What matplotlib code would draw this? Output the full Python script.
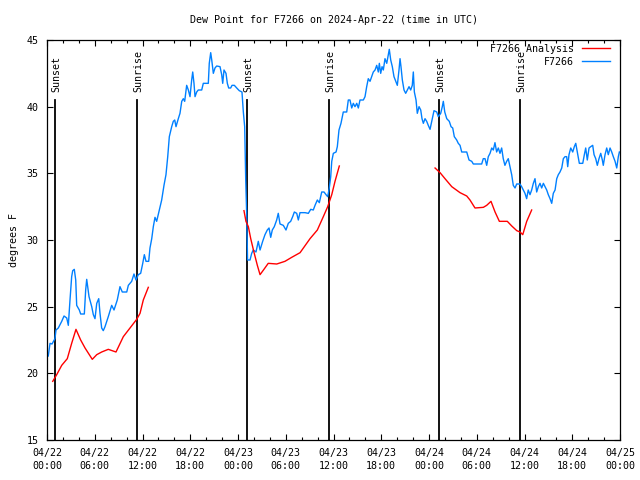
import numpy as np
import matplotlib
matplotlib.use('Agg')
import matplotlib.pyplot as plt

plt.rcParams['font.family'] = ['DejaVu Sans Mono']
plt.rcParams['font.size'] = 7.2

# hours since 2024-04-22 00:00 UTC
obs_hours = [0.16, 0.38, 0.63, 1.0, 1.13, 1.42, 1.85, 2.14, 2.48, 2.68, 2.89, 3.1, 3.23, 3.43, 3.61, 3.73,
             4.06, 4.23, 4.69, 4.86, 4.99, 5.11, 5.28, 5.62, 5.82, 6.03, 6.25, 6.5, 6.66, 6.87, 7.07, 7.29,
             7.7, 8.13, 8.42, 8.83, 9.17, 9.46, 10.02, 10.22, 10.64, 10.93, 11.18, 11.47, 11.77, 12.03,
             12.23, 12.44, 12.78, 12.94, 13.16, 13.36, 13.57, 13.78, 14.11, 14.41, 14.7, 14.95, 15.17,
             15.37, 15.67, 15.87, 16.05, 16.21, 16.5, 16.71, 16.93, 17.13, 17.3, 17.55, 17.76, 17.97,
             18.18, 18.31, 18.47, 18.6, 18.81, 19.01, 19.44, 19.64, 20.27, 20.39, 20.57, 20.7, 20.9,
             21.11, 21.32, 21.74, 21.95, 22.08, 22.24, 22.49, 22.66, 22.83, 23.08, 23.25, 23.54, 23.84,
             24.16, 24.5, 24.67, 24.84, 24.97, 25.1, 25.2, 25.51, 25.72, 25.92, 26.26, 26.55, 26.77,
             27.1, 27.39, 27.68, 27.9, 28.11, 28.31, 28.56, 28.86, 29.06, 29.28, 29.69, 30.03, 30.32,
             30.62, 30.87, 31.08, 31.38, 31.58, 31.79, 32.42, 32.84, 33.14, 33.46, 33.68, 33.97, 34.22,
             34.52, 34.81, 35.06, 35.27, 35.47, 35.65, 35.78, 35.98, 36.32, 36.48, 36.69, 36.94, 37.23,
             37.66, 37.86, 38.07, 38.29, 38.49, 38.7, 38.92, 39.12, 39.33, 39.75, 39.96, 40.17, 40.37,
             40.59, 40.8, 41.0, 41.22, 41.43, 41.63, 41.76, 41.93, 42.1, 42.26, 42.47, 42.69, 42.89,
             43.01, 43.19, 43.39, 43.6, 43.82, 44.02, 44.23, 44.36, 44.48, 44.65, 44.86, 45.07, 45.28,
             45.49, 45.7, 45.9, 46.03, 46.16, 46.37, 46.53, 46.75, 46.96, 47.12, 47.29, 47.5, 47.71,
             47.91, 48.13, 48.47, 48.63, 48.97, 49.17, 49.47, 49.67, 49.8, 49.98, 50.23, 50.55, 50.77,
             50.98, 51.18, 51.48, 51.68, 51.9, 52.11, 52.74, 53.03, 53.37, 53.57, 54.62, 54.82, 55.04,
             55.25, 55.45, 55.67, 55.88, 56.08, 56.29, 56.5, 56.71, 56.92, 57.13, 57.33, 57.54, 57.76,
             57.96, 58.18, 58.39, 58.59, 58.81, 59.02, 59.43, 59.64, 59.85, 60.06, 60.27, 60.47, 60.69,
             60.9, 61.11, 61.32, 61.53, 61.74, 61.95, 62.16, 62.37, 62.58, 62.79, 62.99, 63.21, 63.42,
             63.62, 63.84, 64.05, 64.25, 64.46, 64.68, 64.88, 65.09, 65.3, 65.43, 65.59, 65.81, 66.06,
             66.26, 66.44, 66.64, 66.89, 67.32, 67.52, 67.69, 67.89, 68.11, 68.32, 68.57, 68.74, 68.95,
             69.15, 69.36, 69.58, 69.78, 69.9, 70.12, 70.33, 70.53, 70.75, 70.96, 71.16, 71.38, 71.59,
             71.79, 71.92]
obs_dewpt = [21.3, 22.25, 22.2, 22.6, 23.25, 23.4, 23.9, 24.3, 24.15, 23.6, 25.5, 27.25, 27.7, 27.8, 27.0, 25.1,
             24.75, 24.45, 24.45, 26.25, 27.05, 26.5, 25.75, 25.0, 24.4, 24.1, 25.25, 25.6, 24.5, 23.4, 23.2, 23.5,
             24.25, 25.1, 24.75, 25.5, 26.5, 26.1, 26.1, 26.6, 26.9, 27.45, 27.0, 27.4, 27.5, 28.25,
             28.9, 28.4, 28.4, 29.4, 30.1, 31.0, 31.7, 31.4, 32.25, 33.0, 34.1, 34.9, 36.25,
             37.75, 38.5, 38.9, 39.0, 38.5, 39.1, 39.5, 40.4, 40.6, 40.4, 41.6, 41.25, 40.75,
             42.0, 42.6, 41.75, 40.75, 41.1, 41.25, 41.25, 41.75, 41.75, 43.25, 44.05, 43.5, 42.5,
             42.9, 43.05, 43.0, 42.4, 41.75, 42.75, 42.5, 41.75, 41.4, 41.4, 41.6, 41.6, 41.4,
             41.2, 41.1, 39.6, 38.5, 34.5, 31.75, 28.5, 28.5, 29.0, 29.25, 29.1, 29.9, 29.25,
             29.9, 30.4, 30.75, 30.9, 30.2, 30.75, 31.0, 31.5, 32.0, 31.2, 31.1, 30.75, 31.25,
             31.4, 31.75, 32.1, 32.0, 31.5, 32.05, 32.05, 32.0, 32.3, 32.25, 32.6, 33.0, 32.8,
             33.6, 33.6, 33.4, 33.25, 33.9, 34.75, 35.9, 36.5, 36.6, 37.0, 38.25, 38.75, 39.6,
             39.6, 40.5, 40.5, 39.9, 40.25, 40.0, 40.25, 39.9, 40.5, 40.5, 40.75, 41.5, 42.1,
             41.9, 42.25, 42.6, 42.75, 43.1, 42.6, 43.25, 42.5, 43.0, 42.75, 43.6, 43.25, 43.9,
             44.3, 43.5, 43.0, 42.25, 41.9, 41.6, 42.75, 43.6, 43.0, 42.0, 41.25, 41.0, 41.25,
             41.5, 41.25, 41.6, 42.6, 41.1, 40.5, 39.5, 40.0, 39.75, 39.1, 38.75, 39.1, 38.9,
             38.6, 38.3, 39.25, 39.7, 39.6, 39.25, 39.5, 40.0, 40.4, 39.6, 39.1, 38.9, 38.5,
             38.4, 37.75, 37.5, 37.25, 37.1, 36.6, 36.6, 36.0, 35.9, 35.7, 35.7, 36.1, 36.1,
             35.6, 36.25, 36.5, 36.9, 36.75, 37.3, 36.6, 36.9, 36.5, 36.9, 36.1, 35.6, 35.9,
             36.1, 35.5, 34.9, 34.1, 33.9, 34.2, 34.2, 34.0, 33.75, 33.5, 33.1, 33.75, 33.4,
             33.75, 34.25, 34.6, 33.6, 34.0, 34.25, 33.9, 34.25, 34.0, 33.75, 33.4, 33.1, 32.75,
             33.5, 33.75, 34.6, 34.9, 35.1, 35.4, 36.1, 36.25, 36.25, 35.5, 36.4, 36.9, 36.6,
             37.0, 37.25, 36.6, 35.75, 35.75, 36.4, 36.9, 36.0, 36.9, 37.0, 37.1, 36.4, 36.1,
             35.6, 36.1, 36.5, 36.0, 35.6, 36.4, 36.9, 36.4, 36.9, 36.6, 36.25, 35.9, 35.4,
             36.25, 36.6]

# analysis runs, one list per day
ana_hours_1 = [0.72, 1.22, 1.85, 2.55, 3.1, 3.64, 4.23, 4.78, 5.69, 6.25, 6.87, 7.7, 8.67, 9.59,
               10.43, 11.27, 11.69, 12.1, 12.73]
ana_dewpt_1 = [19.4, 19.9, 20.6, 21.1, 22.25, 23.3, 22.5, 21.9, 21.05, 21.4, 21.6, 21.8, 21.6, 22.75,
               23.4, 24.05, 24.5, 25.5, 26.45]
ana_hours_2 = [24.75, 25.0, 25.3, 25.6, 26.0, 26.43, 26.77, 27.2, 27.8, 28.87, 29.9, 30.75, 31.8,
               33.05, 33.97, 34.72, 35.27, 35.78, 36.19, 36.73]
ana_dewpt_2 = [32.2, 31.4, 31.0, 30.1, 29.1, 28.1, 27.4, 27.75, 28.25, 28.2, 28.4, 28.7, 29.05,
               30.1, 30.75, 31.75, 32.5, 33.4, 34.4, 35.55]
ana_hours_3 = [48.76, 49.39, 50.01, 50.86, 51.9, 52.74, 53.15, 53.78, 54.83, 55.25, 55.79, 56.3,
               56.84, 57.34, 57.84, 58.4, 59.03, 59.44, 59.78, 60.28, 60.9]
ana_dewpt_3 = [35.4, 35.05, 34.6, 34.0, 33.55, 33.3, 33.0, 32.4, 32.45, 32.6, 32.9, 32.1,
               31.4, 31.4, 31.4, 31.05, 30.7, 30.6, 30.4, 31.4, 32.25]

sun_hours = [1.04, 11.35, 25.17, 35.4, 49.3, 59.47]
sun_labels = ['Sunset', 'Sunrise', 'Sunset', 'Sunrise', 'Sunset', 'Sunrise']

tick_hours = [0, 6, 12, 18, 24, 30, 36, 42, 48, 54, 60, 66, 72]
tick_labels = ['04/22\n00:00', '04/22\n06:00', '04/22\n12:00', '04/22\n18:00',
               '04/23\n00:00', '04/23\n06:00', '04/23\n12:00', '04/23\n18:00',
               '04/24\n00:00', '04/24\n06:00', '04/24\n12:00', '04/24\n18:00',
               '04/25\n00:00']

red = '#ff0000'
blue = '#0080ff'

fig = plt.figure(figsize=(6.4, 4.8), dpi=100)
ax = fig.add_axes([47 / 640, 40 / 480, 573 / 640, 400 / 480])

for h, lab in zip(sun_hours, sun_labels):
    ax.plot([h, h], [15, 40.5], color='black', lw=1.3, zorder=1)
    ax.text(h + 0.15, 41.1, lab, rotation=90, ha='center', va='bottom')

ax.plot(ana_hours_1, ana_dewpt_1, color=red, lw=1, label='F7266 Analysis', zorder=3)
ax.plot(ana_hours_2, ana_dewpt_2, color=red, lw=1, zorder=3)
ax.plot(ana_hours_3, ana_dewpt_3, color=red, lw=1, zorder=3)
ax.plot(obs_hours, obs_dewpt, color=blue, lw=1, label='F7266', zorder=2)

ax.set_xlim(0, 72)
ax.set_ylim(15, 45)
ax.set_xticks(tick_hours)
ax.set_xticklabels(tick_labels, linespacing=1.3)
ax.set_xticks(np.arange(0, 73, 2), minor=True)
ax.set_yticks(np.arange(15, 46, 5))
ax.tick_params(which='both', direction='in', top=True, right=True)
ax.tick_params(which='major', length=4.5, width=0.8, pad=6)
ax.tick_params(which='minor', length=2.5, width=0.8)
for s in ax.spines.values():
    s.set_linewidth(0.9)

ax.set_title('Dew Point for F7266 on 2024-Apr-22 (time in UTC)', fontsize=7.2, pad=12)
fig.text(14 / 640, 0.5, 'degrees F', rotation=90, ha='center', va='center')

ax.legend(loc='upper right', bbox_to_anchor=(0.9825, 0.99), frameon=False, markerfirst=False,
          borderpad=0, borderaxespad=0, handlelength=2.8, handletextpad=0.8, labelspacing=0.3,
          fontsize=7.2)

fig.savefig('out.png', dpi=100)
